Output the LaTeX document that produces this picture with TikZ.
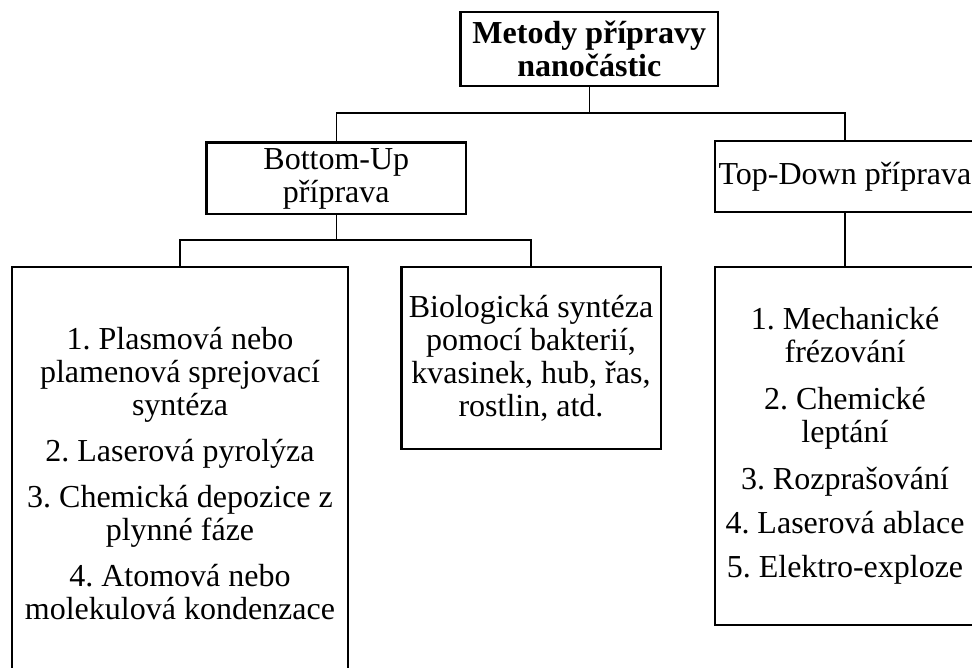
\documentclass[tikz,border=0pt]{standalone}
\usepackage{fontspec}
\setmainfont{Liberation Serif}
\frenchspacing
\begin{document}
\begin{tikzpicture}[x=1pt,y=-1pt,
  box/.style={draw=black, line width=2.7pt, fill=white, inner sep=0pt, align=center,
    font=\fontsize{32}{33}\selectfont},
  conn/.style={draw=black, line width=1.3pt}]
\useasboundingbox (0,0) rectangle (972,668);
\clip (0,0) rectangle (972,668);
\fill[white] (0,0) rectangle (972,668);

\node[box, minimum width=257.5pt, minimum height=74pt, font=\fontsize{32}{33}\selectfont\bfseries] (T) at (589.3,49) {Metody přípravy\\nanočástic};
\node[box, minimum width=259.3pt, minimum height=71.3pt] (BU) at (336.3,178.5) {Bottom-Up\\příprava};
\node[box, minimum width=260pt, minimum height=71pt] (TD) at (845,176.5) {Top-Down příprava};

\node[box, minimum width=336pt, minimum height=413pt] (L) at (180,473.5) {1. Plasmová nebo\\plamenová sprejovací\\syntéza\\[13pt]2. Laserová pyrolýza\\[13pt]3. Chemická depozice z\\plynné fáze\\[13pt]4. Atomová nebo\\molekulová kondenzace};
\node[box, minimum width=259.7pt, minimum height=182pt] (M) at (531,358) {Biologická syntéza\\pomocí bakterií,\\kvasinek, hub, řas,\\rostlin, atd.};
\node[box, minimum width=260pt, minimum height=358pt] (R) at (845,446) {1. Mechanické\\frézování\\[14pt]2. Chemické\\leptání\\[14pt]3. Rozprašování\\[11pt]4. Laserová ablace\\[11pt]5. Elektro-exploze};

\coordinate (j1) at (589.3,113);
\coordinate (j2) at (336.3,240);
\draw[conn] (T.south) -- (j1);
\draw[conn] (BU.north) |- (j1) -| (TD.north);
\draw[conn] (BU.south) -- (j2);
\draw[conn] (L.north) |- (j2) -| (M.north);
\draw[conn] (TD.south) -- (R.north);
\end{tikzpicture}
\end{document}
